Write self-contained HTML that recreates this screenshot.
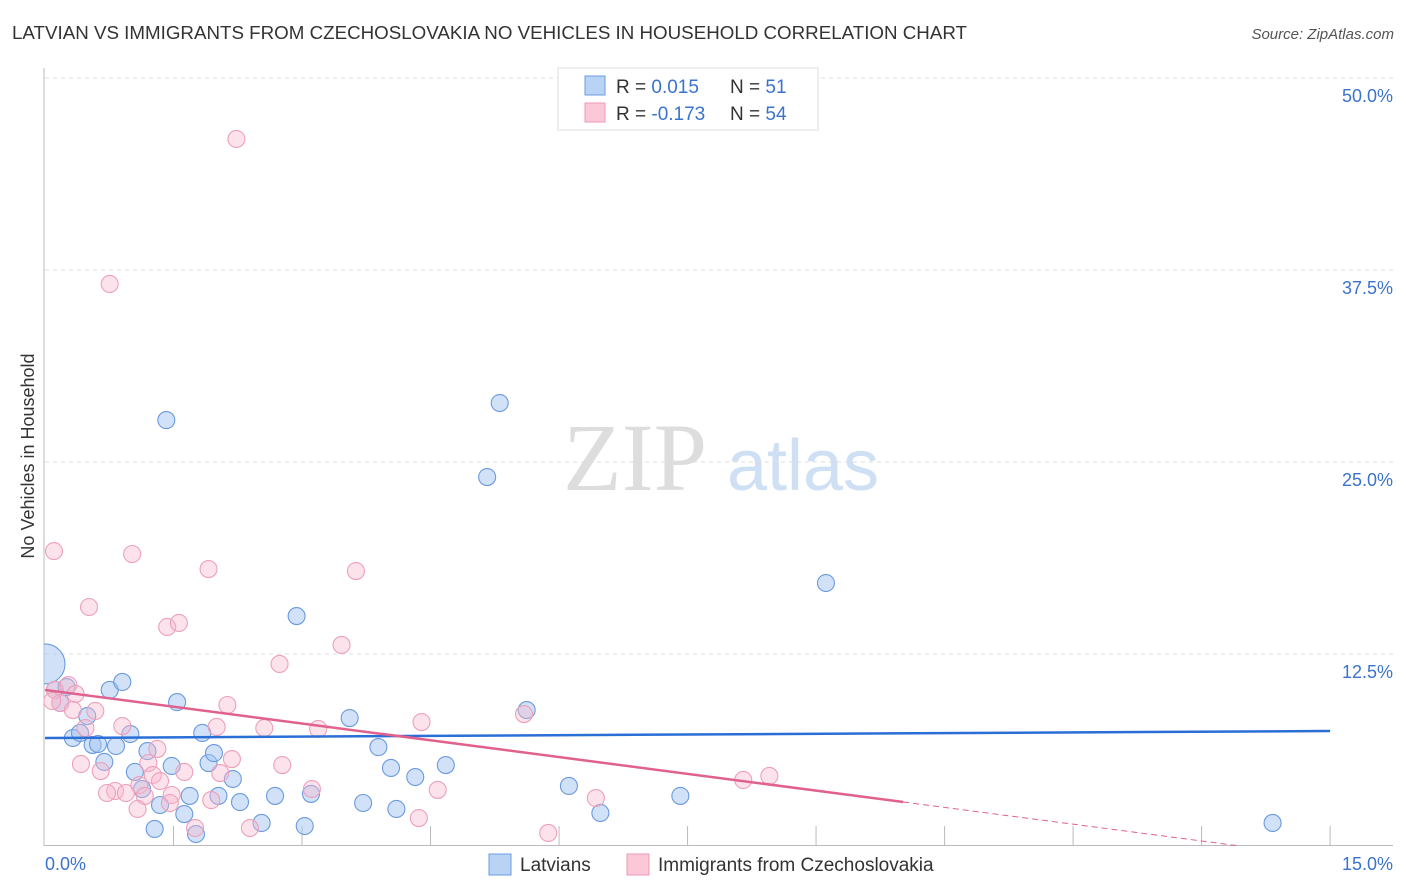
<!DOCTYPE html>
<html><head><meta charset="utf-8">
<style>
body{margin:0;background:#fff;font-family:"Liberation Sans",sans-serif;}
svg{display:block}
</style></head>
<body>
<svg id="chart" width="1406" height="892" xmlns="http://www.w3.org/2000/svg">
<defs><clipPath id="plotclip"><rect x="44" y="60" width="1360" height="786"/></clipPath></defs>
<text x="12" y="39" font-size="18" fill="#333" textLength="955" lengthAdjust="spacingAndGlyphs">LATVIAN VS IMMIGRANTS FROM CZECHOSLOVAKIA NO VEHICLES IN HOUSEHOLD CORRELATION CHART</text>
<text x="1394" y="39" font-size="15" fill="#555" font-style="italic" text-anchor="end">Source: ZipAtlas.com</text>
<g>
<text x="635" y="490" font-size="96" fill="#ddd" font-family="Liberation Serif,serif" text-anchor="middle">ZIP</text>
<text x="803" y="490" font-size="72" fill="#cfe0f5" text-anchor="middle">atlas</text>
</g>
<g id="grid"></g>
<g id="axes"></g>
<g id="pts" clip-path="url(#plotclip)"></g>
<g id="lines"></g>
<text transform="translate(34,456) rotate(-90)" font-size="18" fill="#333" text-anchor="middle">No Vehicles in Household</text>
<g>
<rect x="558" y="68" width="260" height="62" fill="#fff" stroke="#ddd"/>
<rect x="585" y="76" width="20" height="19" fill="#b9d3f5" stroke="#6a9be0"/>
<rect x="585" y="103" width="20" height="19" fill="#fac8d7" stroke="#ee9ab6"/>
<text x="616" y="93" font-size="19" fill="#333">R = <tspan fill="#3b73cc"> 0.015</tspan></text>
<text x="730" y="93" font-size="19" fill="#333">N = <tspan fill="#3b73cc"> 51</tspan></text>
<text x="616" y="120" font-size="19" fill="#333">R = <tspan fill="#3b73cc">-0.173</tspan></text>
<text x="730" y="120" font-size="19" fill="#333">N = <tspan fill="#3b73cc">54</tspan></text>
</g>
<g>
<rect x="489" y="854" width="22" height="21" fill="#b9d3f5" stroke="#6a9be0"/>
<text x="520" y="871" font-size="19" fill="#333">Latvians</text>
<rect x="627" y="854" width="22" height="21" fill="#fac8d7" stroke="#ee9ab6"/>
<text x="658" y="871" font-size="19" fill="#333">Immigrants from Czechoslovakia</text>
</g>
</svg>
<script>
const yTicks=[12.5,25,37.5,50];
const yTickLabels=["12.5%","25.0%","37.5%","50.0%"];
const xTicks=[1.43,2.86,4.29,5.72,7.15,8.58,10.01,11.44,12.87,14.3];
const xEndLabels=["0.0%","15.0%"];
const latX=[0,.11,.24,.72,.86,1.35,1.47,5.06,4.92,8.69,2.80,3.39,5.36,.17,.31,.39,.47,.53,.59,.66,.79,.95,1.00,1.14,1.08,1.28,1.22,1.41,1.61,1.55,1.68,1.75,1.82,1.88,1.93,2.09,2.17,2.41,2.56,2.89,2.96,3.54,3.71,3.85,3.91,4.12,4.46,5.83,6.18,7.07,13.66];
const latY=[11.85,10.16,10.35,10.16,10.68,27.73,9.37,28.84,24.02,17.12,14.97,8.33,8.85,9.31,7.03,7.36,8.46,6.58,6.64,5.47,6.51,7.29,4.82,6.18,3.71,2.67,1.11,5.21,3.26,2.08,.78,7.36,5.40,6.05,3.26,4.36,2.86,1.50,3.26,1.30,3.39,2.80,6.44,5.08,2.41,4.49,5.27,3.91,2.15,3.26,1.50];
const czX=[2.13,.72,.10,.97,.49,1.82,3.46,1.36,1.49,3.30,2.61,.11,.26,.34,.17,.31,.56,.45,.86,2.03,1.91,2.44,3.04,4.19,5.33,.40,.62,1.15,1.20,1.28,1.55,2.08,1.95,2.64,.78,.90,1.05,1.11,1.41,1.03,1.39,1.85,2.97,4.37,1.67,2.28,4.16,5.60,6.13,7.77,8.06,.69,.08,1.25];
const czY=[46.03,36.59,19.20,19.01,15.56,18.03,17.90,14.26,14.52,13.09,11.85,10.16,10.48,9.90,9.31,8.85,8.79,7.68,7.81,9.18,7.75,7.68,7.62,8.07,8.59,5.34,4.88,5.40,4.62,4.23,4.82,5.66,4.75,5.27,3.58,3.45,3.97,3.26,3.32,2.41,2.80,2.99,3.71,3.65,1.17,1.17,1.82,.85,3.12,4.30,4.56,3.45,9.44,6.32];
const latTrend=[7.03,0.032]; // intercept, slope
const czTrend=[10.16,-0.764];
const NS="http://www.w3.org/2000/svg";
const X0=45,X1=1393,Y0=846;
function sx(v){return X0+v*(X1-X0)/15;}
function sy(v){return Y0-v*15.36;}
function mk(tag,attrs,parent){const e=document.createElementNS(NS,tag);for(const k in attrs)e.setAttribute(k,attrs[k]);document.getElementById(parent).appendChild(e);return e;}
yTicks.forEach((t,i)=>{
  const g=mk('line',{x1:X0,x2:X1,y1:sy(t),y2:sy(t),stroke:'#ddd','stroke-dasharray':'4,4'},'grid');
  
  
  const l=mk('text',{x:1393,y:sy(t)+24,'font-size':18,fill:'#3b73cc','text-anchor':'end'},'grid');
  l.textContent=yTickLabels[i];
  
  
});
let a=mk('line',{x1:44,x2:44,y1:68,y2:846,stroke:'#bbb'},'axes');


a=mk('line',{x1:44,x2:X1,y1:845.5,y2:845.5,stroke:'#bbb'},'axes');


xTicks.forEach(t=>{const e=mk('line',{x1:sx(t),x2:sx(t),y1:826,y2:846,stroke:'#bbb'},'axes');
  
  });
let t0=mk('text',{x:45,y:870,'font-size':18,fill:'#3b73cc'},'axes');t0.textContent=xEndLabels[0];


let t1=mk('text',{x:1393,y:870,'font-size':18,fill:'#3b73cc','text-anchor':'end'},'axes');t1.textContent=xEndLabels[1];


latX.forEach((x,i)=>{const c=mk('circle',{cx:sx(x),cy:sy(latY[i]),r:i==0?20:8.5,fill:'rgba(164,198,242,0.5)',stroke:'#6b9ade','stroke-width':1.1},'pts');
  
  });
czX.forEach((x,i)=>{const c=mk('circle',{cx:sx(x),cy:sy(czY[i]),r:8.5,fill:'rgba(248,185,206,0.4)',stroke:'#eda0ba','stroke-width':1.1},'pts');
  
  });
let l=mk('line',{x1:sx(0),y1:sy(latTrend[0]),x2:sx(14.3),y2:sy(latTrend[0]+latTrend[1]*14.3),stroke:'#2a6fd6','stroke-width':2.5},'lines');


const xe=9.55;
l=mk('line',{x1:sx(0),y1:sy(czTrend[0]),x2:sx(xe),y2:sy(czTrend[0]+czTrend[1]*xe),stroke:'#e0608e','stroke-width':2.5},'lines');


const xz=-czTrend[0]/czTrend[1];
l=mk('line',{x1:sx(xe),y1:sy(czTrend[0]+czTrend[1]*xe),x2:sx(xz),y2:sy(0),stroke:'#e0608e','stroke-width':1,'stroke-dasharray':'6,4'},'lines');


</script>
</body></html>
